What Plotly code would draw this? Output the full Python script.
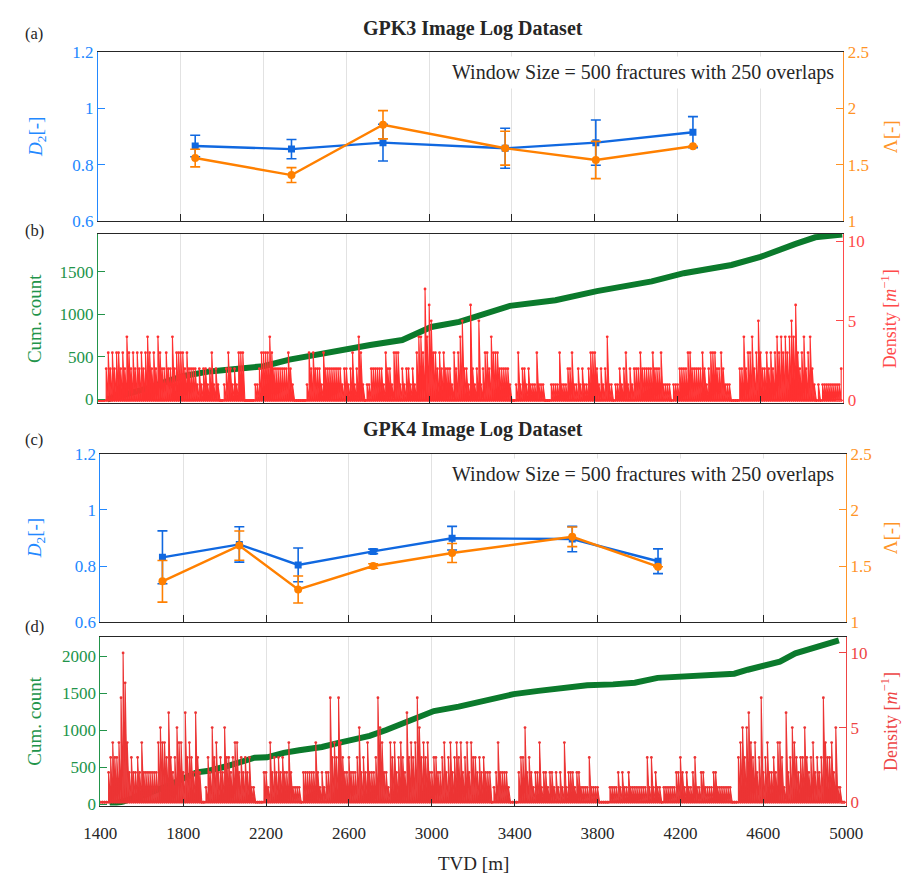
import plotly.graph_objects as go

# ---------------- GPK3: sliding-window estimates ----------------
gpk3_tvd = [1870, 2335, 2777, 3367, 3805, 4274]
gpk3_d2 = [0.867, 0.856, 0.879, 0.859, 0.879, 0.916]
gpk3_d2_err = [0.038, 0.034, 0.065, 0.071, 0.080, 0.055]
gpk3_lam = [1.561, 1.410, 1.856, 1.648, 1.544, 1.665]
gpk3_lam_err = [0.078, 0.066, 0.125, 0.150, 0.165, 0.0]

# ---------------- GPK4: sliding-window estimates ----------------
gpk4_tvd = [1700, 2071, 2355, 2717, 3098, 3678, 4092]
gpk4_d2 = [0.831, 0.877, 0.804, 0.852, 0.899, 0.896, 0.817]
gpk4_d2_err = [0.094, 0.063, 0.060, 0.008, 0.042, 0.045, 0.044]
gpk4_lam = [1.364, 1.682, 1.292, 1.500, 1.616, 1.760, 1.494]
gpk4_lam_err = [0.185, 0.130, 0.120, 0.020, 0.085, 0.087, 0.0]

# ---------------- cumulative fracture counts ----------------
gpk3_cum_tvd = [1445, 1530, 1640, 1740, 1815, 1940, 2095, 2200, 2325, 2405,
                2560, 2715, 2870, 2945, 3010, 3145, 3390, 3610, 3810, 4075,
                4230, 4460, 4600, 4770, 4865, 4995]
gpk3_cum = [0, 50, 130, 218, 276, 329, 371, 390, 467, 505,
            582, 639, 697, 773, 850, 910, 1098, 1163, 1271, 1385,
            1481, 1577, 1672, 1825, 1902, 1935]

gpk4_cum_tvd = [1445, 1510, 1600, 1710, 1865, 1925, 2005, 2080, 2145, 2205,
                2285, 2360, 2470, 2545, 2625, 2700, 2780, 2855, 2935, 3010,
                3130, 3285, 3395, 3515, 3640, 3750, 3875, 3980, 4090, 4215,
                4335, 4460, 4525, 4615, 4680, 4755, 4835, 4910, 4965]
gpk4_cum = [0, 35, 120, 230, 432, 454, 511, 586, 630, 635,
            696, 731, 775, 828, 872, 925, 1004, 1092, 1181, 1260,
            1320, 1423, 1489, 1533, 1577, 1608, 1621, 1643, 1709, 1731,
            1762, 1765, 1819, 1885, 1929, 2040, 2106, 2172, 2216]

# ---------------- fracture density, 10 m depth bins from 1400 m ----------------
density_bin_start = 1400
density_bin_step = 10

gpk3_density = [
    0, 0, 0, 0, 2,
    3, 2, 3, 2, 3, 3, 2, 3, 2, 4, 3, 2, 3, 2, 3, 2, 3, 2, 3, 4,
    3, 2, 3, 2, 4, 3, 2, 2, 3, 2, 2, 4, 2, 3,
    3, 3, 3, 2, 3, 2, 2, 2, 2, 1, 2, 1, 2, 2, 1, 2, 3, 1, 2, 1,
    0, 0, 1, 2, 3, 2, 1, 2, 1, 3, 3, 3, 0, 0, 0, 0, 0, 1, 1, 2,
    3, 3, 3, 3, 4, 3, 2, 2, 2, 2, 2, 2, 2, 3, 2, 1, 0, 0, 0, 0,
    0, 0, 1, 3, 2, 3, 2, 2, 2, 1, 3, 2, 2, 2, 2, 2, 2, 2, 2, 1,
    2, 2, 1, 2, 3, 1, 2, 4, 3, 1, 0, 1, 1, 2, 2, 2, 2, 2, 2, 1,
    3, 2, 2, 1, 3, 3, 3, 1, 2, 1, 2, 2, 1, 2, 1, 3, 4, 4, 3, 7,
    4, 6, 5, 3, 3, 2, 3, 2, 3, 2, 2, 2, 1, 3, 2, 3,
    4, 5, 2, 2, 1, 6, 2, 1, 2, 5, 1, 2, 3, 3, 2, 4, 3, 3, 3, 2,
    2, 2, 2, 2, 1, 0, 0, 1, 3, 1, 2, 2, 1, 2, 1, 1, 1, 3, 1, 1,
    1, 0, 0, 0, 1, 1, 1, 1, 3, 1, 1, 1, 2, 2, 3, 1, 1, 2, 1, 2,
    1, 1, 2, 3, 3, 3, 2, 1, 2, 1, 2, 4, 1, 1, 0, 1, 1, 2, 1, 2,
    3, 1, 2, 1, 2, 2, 2, 3, 2, 2, 2, 2, 2, 3, 2, 2, 2, 3, 1, 1,
    1, 1, 0, 1, 1, 1, 2, 2, 2, 2, 3, 3, 2, 2, 2, 2, 2, 3, 2, 1,
    2, 3, 3, 3, 2, 2, 3, 2, 1, 1, 1, 0, 0, 0, 0, 2, 2, 4, 2, 3,
    3, 4, 2, 3, 5, 3, 2, 2, 3, 2, 3, 2, 3, 4, 3, 4, 3, 4, 3, 4,
    5, 4, 6, 3, 2, 3, 4, 2, 3, 4, 2, 1, 0, 1, 0, 1, 1, 1, 1, 1,
    1, 1, 1, 1, 2,
]

gpk4_density = [
    0, 0, 0, 0, 2,
    3, 4, 3, 3, 4, 7, 10, 8, 4, 2, 3, 2, 2, 3, 2, 4, 2, 2, 2, 2,
    2, 2, 2, 4, 5, 4, 4, 3, 6, 3, 2, 3, 5, 4, 4, 2, 6, 3, 4, 3,
    2, 6, 3, 2, 0, 0, 1, 3, 2, 5, 3, 4, 2, 3, 2, 5, 3, 3, 2, 3,
    4, 4, 2, 3, 2, 3, 2, 3, 1, 1, 0, 0, 0, 0, 2, 2, 1, 4, 2, 3,
    2, 3, 2, 3, 2, 2, 4, 2, 1, 1, 1, 1, 0, 2, 2, 2, 2, 2, 2, 4,
    2, 1, 2, 1, 2, 2, 7, 3, 4, 3, 7, 4, 3, 2, 2, 3, 2, 2, 2, 3,
    5, 2, 3, 2, 4, 2, 2, 2, 3, 7, 5, 4, 2, 2, 1, 4, 3, 4, 2, 3,
    4, 3, 2, 6, 3, 4, 3, 4, 7, 5, 3, 4, 3, 4, 2, 2, 3, 3, 2, 2,
    3, 4, 2, 3, 4, 2, 3, 4, 3, 4, 2, 3, 4, 2, 4, 3, 3, 2, 3, 2,
    3, 2, 2, 2, 0, 1, 2, 4, 2, 2, 2, 2, 1, 0, 0, 0, 0, 2, 3, 3,
    5, 2, 3, 2, 1, 2, 2, 4, 1, 2, 2, 1, 2, 2, 1, 2, 1, 2, 1, 4,
    1, 2, 2, 2, 1, 2, 2, 1, 1, 1, 1, 3, 1, 1, 1, 1, 0, 0, 0, 0,
    0, 1, 1, 1, 1, 2, 1, 2, 1, 1, 2, 1, 1, 1, 1, 1, 1, 1, 1, 3,
    1, 3, 1, 2, 1, 1, 0, 1, 1, 1, 1, 1, 1, 2, 2, 3, 2, 1, 2, 1,
    1, 2, 3, 1, 1, 2, 2, 1, 1, 1, 1, 2, 2, 1, 1, 1, 1, 1, 1, 1,
    0, 0, 0, 3, 4, 5, 3, 5, 6, 4, 3, 4, 2, 3, 7, 2, 3, 4, 2, 2,
    3, 2, 4, 4, 3, 1, 6, 2, 3, 5, 4, 3, 2, 3, 3, 5, 3, 2, 3, 4,
    2, 3, 2, 3, 7, 4, 3, 3, 4, 2, 5, 1, 1, 0, 0,
]

tvd_ticks = [1400, 1800, 2200, 2600, 3000, 3400, 3800, 4200, 4600, 5000]

# ---------------- styling ----------------
FONT = "Liberation Serif"
W, H = 919, 887
BLUE, BLUE_AX = "#1068e0", "#2288ff"
ORANGE, ORANGE_AX = "#ff8000", "#ff9426"
GREEN, GREEN_AX = "#0b7a2c", "#22944a"
RED, RED_AX = "#ff3030", "#ff4a4a"
RED_D, RED_D_AX = "#ec3434", "#ee4444"
DARK = "#262626"
GRID = "#e2e2e2"


def fx(p):
    return p / W


def fy(p):
    return 1 - p / H


def spikes(values):
    """Stems rising from zero to each bin's density value."""
    xs, ys = [], []
    for k, v in enumerate(values):
        d = density_bin_start + k * density_bin_step
        xs += [d, d]
        ys += [0, v]
    return xs, ys


def density_trace(values, color, xa, ya):
    sx, sy = spikes(values)
    return go.Scatter(
        x=sx, y=sy, xaxis=xa, yaxis=ya, mode="lines+markers",
        fill="tozeroy", fillcolor=color,
        line=dict(color=color, width=1.1, simplify=False),
        marker=dict(size=2.8, color=color))


fig = go.Figure()

# (a) GPK3 D2 and Lambda
fig.add_trace(go.Scatter(
    x=gpk3_tvd, y=gpk3_d2, xaxis="x", yaxis="y", mode="lines+markers",
    line=dict(color=BLUE, width=2.4), marker=dict(symbol="square", size=7, color=BLUE),
    error_y=dict(type="data", array=gpk3_d2_err, color=BLUE, thickness=1.6, width=5)))
fig.add_trace(go.Scatter(
    x=gpk3_tvd, y=gpk3_lam, xaxis="x", yaxis="y2", mode="lines+markers",
    line=dict(color=ORANGE, width=2.4), marker=dict(symbol="circle", size=8, color=ORANGE),
    error_y=dict(type="data", array=gpk3_lam_err, color=ORANGE, thickness=1.6, width=5)))

# (b) GPK3 cumulative count and density
fig.add_trace(go.Scatter(
    x=gpk3_cum_tvd, y=gpk3_cum, xaxis="x2", yaxis="y3", mode="lines",
    line=dict(color=GREEN, width=6)))
fig.add_trace(density_trace(gpk3_density, RED, "x2", "y4"))

# (c) GPK4 D2 and Lambda
fig.add_trace(go.Scatter(
    x=gpk4_tvd, y=gpk4_d2, xaxis="x3", yaxis="y5", mode="lines+markers",
    line=dict(color=BLUE, width=2.4), marker=dict(symbol="square", size=7, color=BLUE),
    error_y=dict(type="data", array=gpk4_d2_err, color=BLUE, thickness=1.6, width=5)))
fig.add_trace(go.Scatter(
    x=gpk4_tvd, y=gpk4_lam, xaxis="x3", yaxis="y6", mode="lines+markers",
    line=dict(color=ORANGE, width=2.4), marker=dict(symbol="circle", size=8, color=ORANGE),
    error_y=dict(type="data", array=gpk4_lam_err, color=ORANGE, thickness=1.6, width=5)))

# (d) GPK4 cumulative count and density
fig.add_trace(go.Scatter(
    x=gpk4_cum_tvd, y=gpk4_cum, xaxis="x4", yaxis="y7", mode="lines",
    line=dict(color=GREEN, width=6)))
fig.add_trace(density_trace(gpk4_density, RED_D, "x4", "y8"))


def xaxis(domain, anchor, labels):
    d = dict(domain=domain, anchor=anchor, range=[1400, 5000], tickvals=tvd_ticks,
             showticklabels=labels, ticks="inside", ticklen=7, tickcolor=DARK,
             showline=True, mirror=True, linecolor=DARK, linewidth=1,
             showgrid=True, gridcolor=GRID, gridwidth=1, zeroline=False,
             tickfont=dict(family=FONT, size=17, color=DARK))
    if labels:
        d["ticklabelstandoff"] = 12
    return d


def yaxis(domain, anchor, rng, tickvals, color, side="left", overlaying=None):
    d = dict(domain=domain, anchor=anchor, range=rng, tickvals=tickvals, side=side,
             ticks="inside", ticklen=7, tickcolor=color, showline=True, linecolor=color,
             linewidth=1, showgrid=False, zeroline=False,
             tickfont=dict(family=FONT, size=17, color=color))
    if overlaying:
        d["overlaying"] = overlaying
    return d


xa = [fx(84), fx(858)]
xc = [fx(86.5), fx(861)]
ya = [fy(217), fy(44)]
yb = [fy(403), fy(230)]
yc = [fy(626.7), fy(454.3)]
yd = [fy(814), fy(641.7)]

fig.update_layout(
    width=W, height=H, margin=dict(l=0, r=0, t=0, b=0),
    paper_bgcolor="white", plot_bgcolor="white", showlegend=False,
    font=dict(family=FONT, color=DARK),
    xaxis=xaxis(xa, "y", False),
    xaxis2=xaxis(xa, "y3", False),
    xaxis3=xaxis(xc, "y5", False),
    xaxis4=xaxis(xc, "y7", True),
    yaxis=yaxis(ya, "x", [0.6, 1.2], [0.6, 0.8, 1.0, 1.2], BLUE_AX),
    yaxis2=yaxis(ya, "x", [1, 2.5], [1, 1.5, 2, 2.5], ORANGE_AX, "right", "y"),
    yaxis3=yaxis(yb, "x2", [-46, 1940], [0, 500, 1000, 1500], GREEN_AX),
    yaxis4=yaxis(yb, "x2", [-0.18, 10.45], [0, 5, 10], RED_AX, "right", "y3"),
    yaxis5=yaxis(yc, "x3", [0.6, 1.2], [0.6, 0.8, 1.0, 1.2], BLUE_AX),
    yaxis6=yaxis(yc, "x3", [1, 2.5], [1, 1.5, 2, 2.5], ORANGE_AX, "right", "y5"),
    yaxis7=yaxis(yd, "x4", [-17, 2262], [0, 500, 1000, 1500, 2000], GREEN_AX),
    yaxis8=yaxis(yd, "x4", [-0.22, 11.07], [0, 5, 10], RED_D_AX, "right", "y7"),
)


def note(text, x, y, size, color=DARK, angle=0, xanchor="center", **kw):
    fig.add_annotation(text=text, x=fx(x), y=fy(y), xref="paper", yref="paper",
                       showarrow=False, textangle=angle, xanchor=xanchor, yanchor="middle",
                       font=dict(family=FONT, size=size, color=color), **kw)


# titles and panel letters
note("<b>GPK3 Image Log Dataset</b>", 474, 20, 20)
note("<b>GPK4 Image Log Dataset</b>", 474, 430, 20)
for lab, yy in [("(a)", 25), ("(b)", 226), ("(c)", 440), ("(d)", 631)]:
    note(lab, 18, yy, 16.5)

# window annotation
for yy in (65, 476):
    note("Window Size = 500 fractures with 250 overlaps", 854, yy, 20,
         xanchor="right", bgcolor="white", borderpad=4)

# axis titles
for yy in (130.5, 540.5):
    note("<i>D</i><sub>2</sub>[-]", 20, yy, 19, BLUE_AX, -90)
    note("Λ[-]", 907, yy, 19, ORANGE_AX, -90)
note("Cum. count", 18, 316.5, 19, GREEN_AX, -90)
note("Cum. count", 18, 728, 19, GREEN_AX, -90)
note("Density [<i>m</i><sup>−1</sup>]", 906, 316.5, 18, RED_AX, -90)
note("Density [<i>m</i><sup>−1</sup>]", 906, 728, 18, RED_D_AX, -90)
note("TVD [m]", 474, 873, 19)

fig.write_html("out.html")
